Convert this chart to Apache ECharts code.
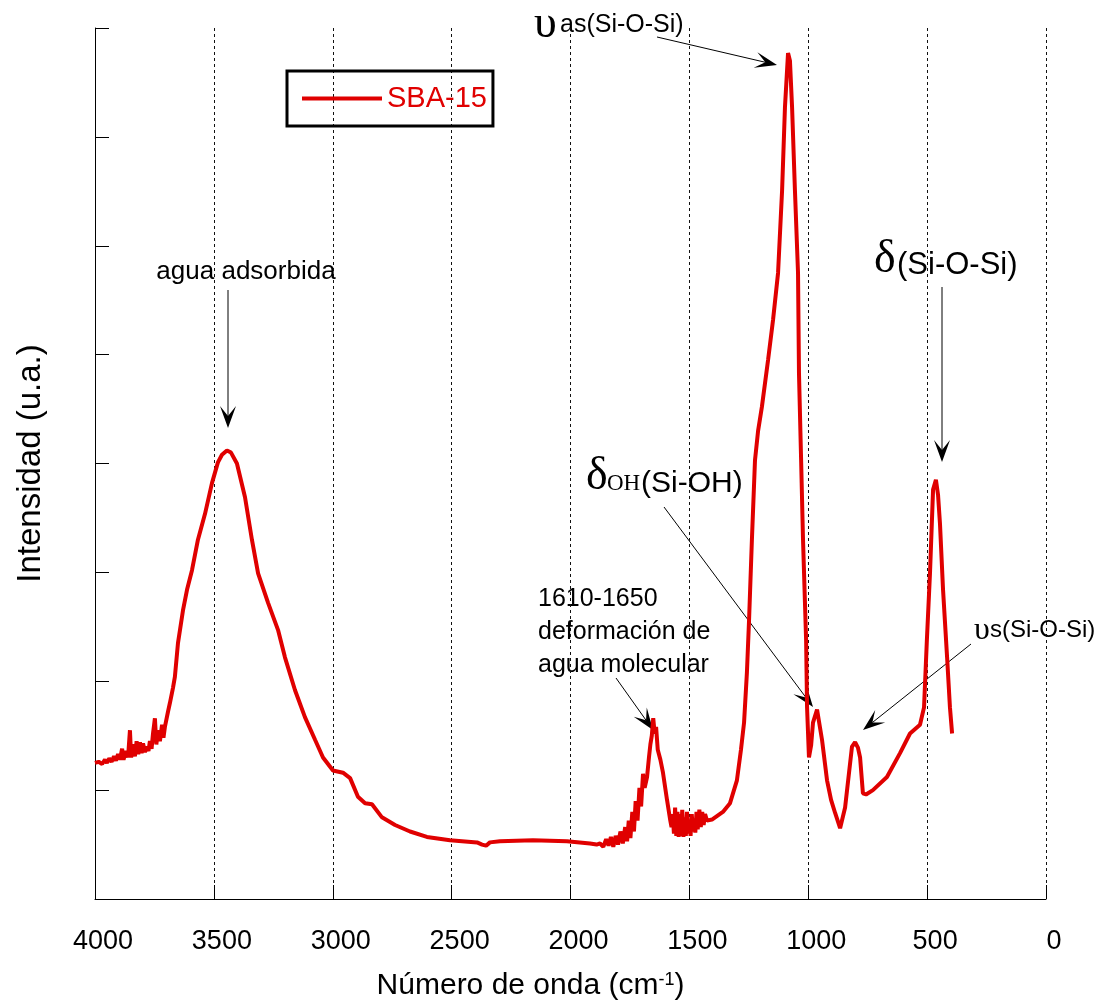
<!DOCTYPE html>
<html>
<head>
<meta charset="utf-8">
<script src="https://cdn.jsdelivr.net/npm/echarts@6/dist/echarts.min.js"></script>
<style>
  html, body { margin: 0; padding: 0; background: #fff; }
  #chart { width: 1109px; height: 1006px; }
</style>
</head>
<body>
<div id="chart"></div>
<script>
// número de onda (cm-1)
const wavenumber = [
  4000, 3985, 3970, 3958, 3950, 3940, 3930, 3920, 3912, 3903,
  3895, 3886, 3880, 3870, 3861, 3853, 3848, 3840, 3832, 3825,
  3818, 3811, 3804, 3798, 3790, 3782, 3775, 3769, 3762, 3756,
  3748, 3742, 3735, 3727, 3718, 3712, 3706,
  3693, 3685, 3672, 3664, 3651, 3630, 3613, 3592, 3567, 3537,
  3508, 3483, 3466, 3445, 3428, 3403, 3369, 3340, 3314, 3272,
  3230, 3201, 3159, 3117, 3074, 3041, 2999, 2957, 2927, 2894,
  2864, 2835, 2793, 2738, 2675, 2604, 2507, 2393, 2372, 2355,
  2339, 2297, 2158, 2015, 1918, 1890,
  1876, 1862, 1850, 1840, 1830, 1820, 1810, 1800, 1790, 1780,
  1770, 1762, 1755, 1748, 1740, 1733, 1726, 1718, 1710, 1703,
  1695, 1688, 1678, 1670, 1664, 1658, 1652, 1646, 1640, 1633,
  1622, 1611, 1594, 1581,
  1575, 1570, 1565, 1560, 1555, 1550, 1545, 1540, 1535, 1530,
  1525, 1520, 1515, 1510, 1505, 1500, 1495, 1490, 1485, 1480,
  1475, 1470, 1465, 1458, 1452, 1446, 1440, 1434, 1426, 1405,
  1359, 1329, 1300, 1283, 1270, 1258, 1249, 1237, 1224, 1211,
  1195, 1169, 1148, 1127, 1110, 1098, 1085, 1077, 1068, 1056,
  1043, 1039, 1030, 1022, 1009, 1005, 997, 988, 980, 963,
  942, 921, 904, 887, 866, 845, 816, 803, 791, 782,
  770, 757, 728, 669, 614, 572, 530, 513, 501, 488,
  475, 463, 454, 446, 433, 416, 404, 395
];
// intensidad (u.a.)
const intensity = [
  1.25, 1.26, 1.24, 1.28, 1.25, 1.29, 1.26, 1.31, 1.27, 1.33,
  1.28, 1.38, 1.28, 1.36, 1.30, 1.55, 1.30, 1.42, 1.31, 1.45,
  1.33, 1.44, 1.34, 1.43, 1.35, 1.40, 1.36, 1.45, 1.38, 1.52,
  1.66, 1.42, 1.55, 1.45, 1.60, 1.48, 1.58,
  1.72, 1.80, 1.94, 2.04, 2.35, 2.65, 2.84, 3.02, 3.30, 3.54,
  3.82, 4.01, 4.08, 4.12, 4.10, 4.00, 3.69, 3.30, 2.99, 2.72,
  2.47, 2.22, 1.92, 1.67, 1.46, 1.30, 1.18, 1.16, 1.11, 0.94,
  0.88, 0.87, 0.75, 0.68, 0.62, 0.57, 0.54, 0.52, 0.50, 0.49,
  0.52, 0.53, 0.54, 0.53, 0.51, 0.50,
  0.51, 0.48, 0.55, 0.49, 0.57, 0.48, 0.58, 0.50, 0.62, 0.51,
  0.66, 0.53, 0.72, 0.56, 0.80, 0.62, 0.90, 0.72, 1.02, 0.85,
  1.15, 1.02, 1.12, 1.30, 1.42, 1.50, 1.66, 1.52, 1.58, 1.37,
  1.28, 1.16, 0.91, 0.73,
  0.66, 0.78, 0.60, 0.84, 0.58, 0.80, 0.57, 0.78, 0.58, 0.82,
  0.57, 0.75, 0.58, 0.80, 0.60, 0.72, 0.58, 0.78, 0.62, 0.74,
  0.61, 0.80, 0.64, 0.82, 0.66, 0.80, 0.68, 0.78, 0.72, 0.73,
  0.80, 0.88, 1.09, 1.37, 1.62, 2.08, 2.56, 3.30, 4.03, 4.30,
  4.52, 4.95, 5.32, 5.75, 6.51, 7.27, 7.77, 7.70, 7.27, 6.51,
  5.75, 4.83, 4.03, 3.30, 2.38, 1.76, 1.30, 1.41, 1.62, 1.74,
  1.46, 1.09, 0.91, 0.79, 0.65, 0.84, 1.40, 1.44, 1.39, 1.30,
  0.97, 0.96, 1.00, 1.12, 1.34, 1.52, 1.60, 1.76, 2.38, 2.99,
  3.76, 3.85, 3.71, 3.45, 2.84, 2.22, 1.76, 1.52
];
const seriesName = 'SBA-15';

const RED = '#e00000';
const SANS = '"Liberation Sans", Arial, sans-serif';
const SERIF = '"Liberation Serif", "DejaVu Serif", serif';

// flecha con punta cóncava (estilo MATLAB)
function arrow(x1, y1, x2, y2) {
  const dx = x2 - x1, dy = y2 - y1;
  const len = Math.hypot(dx, dy);
  const ux = dx / len, uy = dy / len;
  const px = -uy, py = ux;
  const hl = 22, hw = 8, notch = 12;
  const bx = x2 - ux * hl, by = y2 - uy * hl;
  const nx = x2 - ux * notch, ny = y2 - uy * notch;
  return [
    { type: 'line', shape: { x1: x1, y1: y1, x2: nx, y2: ny }, style: { stroke: '#000', lineWidth: 1 } },
    {
      type: 'polygon',
      shape: { points: [[x2, y2], [bx + px * hw, by + py * hw], [nx, ny], [bx - px * hw, by - py * hw]] },
      style: { fill: '#000' }
    }
  ];
}

function label(text, x, y, font, extra) {
  return {
    type: 'text', x: x, y: y,
    style: Object.assign({ text: text, font: font, fill: '#000', align: 'left', verticalAlign: 'middle' }, extra || {})
  };
}

const annotations = [].concat(
  // υas(Si-O-Si)
  label('υ', 534, 25, '46px ' + SERIF),
  label('as(Si-O-Si)', 560, 25, '25px ' + SANS),
  arrow(657, 37, 777, 65),
  // agua adsorbida
  label('agua adsorbida', 246, 272, '26px ' + SANS, { align: 'center' }),
  arrow(228, 290, 228, 428),
  // δ(Si-O-Si)
  label('δ', 874, 260, '46px ' + SERIF),
  label('(Si-O-Si)', 897, 265, '31px ' + SANS),
  arrow(942, 287, 942, 462),
  // δOH(Si-OH)
  label('δ', 586, 477, '46px ' + SERIF),
  label('OH', 607, 484, '23px ' + SERIF),
  label('(Si-OH)', 641, 484, '30px ' + SANS),
  arrow(664, 507, 813, 707),
  // 1610-1650
  label('1610-1650\ndeformación de\nagua molecular', 538, 583, '25px ' + SANS, { verticalAlign: 'top', lineHeight: 33 }),
  arrow(616, 678, 653, 730),
  // υs(Si-O-Si)
  label('υ', 974, 631, '32px ' + SERIF),
  label('s(Si-O-Si)', 990, 630, '24px ' + SANS),
  arrow(971, 644, 863, 730)
);

const chart = echarts.init(document.getElementById('chart'), null, { renderer: 'canvas' });
chart.setOption({
  animation: false,
  backgroundColor: '#fff',
  grid: { left: 95, right: 63, top: 28, bottom: 107, containLabel: false, outerBoundsMode: 'none' },
  legend: {
    left: 287, top: 71,
    orient: 'horizontal',
    borderColor: '#000', borderWidth: 3, borderRadius: 0,
    padding: [13, 6, 13, 15],
    itemWidth: 80, itemHeight: 14,
    textStyle: { color: RED, fontSize: 29, fontFamily: SANS },
    data: [{ name: seriesName, icon: 'path://M0,0 L80,0 L80,4 L0,4 Z', itemStyle: { color: RED } }]
  },
  xAxis: {
    type: 'value', min: 0, max: 4000, interval: 500, inverse: true,
    name: 'Número de onda (cm{sup|-1})',
    nameLocation: 'middle', nameGap: 72,
    nameTextStyle: {
      fontSize: 30, fontFamily: SANS, color: '#000', padding: [0, 80, 0, 0],
      rich: { sup: { fontSize: 18, fontFamily: SANS, color: '#000', verticalAlign: 'top' } }
    },
    axisLine: { show: true, onZero: false, lineStyle: { color: '#000', width: 1 } },
    axisTick: { show: true, inside: true, length: 14, lineStyle: { color: '#000' } },
    axisLabel: {
      color: '#000', fontSize: 27, fontFamily: SANS, margin: 29, padding: [0, 0, 0, 16],
      showMinLabel: true, showMaxLabel: true,
      formatter: v => String(v)
    },
    splitLine: { show: true, lineStyle: { color: '#111', type: [3, 3], width: 1 } }
  },
  yAxis: {
    type: 'value', min: 0, max: 8, interval: 1, position: 'left',
    name: 'Intensidad (u.a.)',
    nameLocation: 'middle', nameGap: 48,
    nameTextStyle: { fontSize: 33, fontFamily: SANS, color: '#000' },
    axisLine: { show: true, onZero: false, lineStyle: { color: '#000', width: 1 } },
    axisTick: { show: true, inside: true, length: 14, lineStyle: { color: '#000' } },
    axisLabel: { show: false },
    splitLine: { show: false }
  },
  series: [{
    name: seriesName,
    type: 'line',
    data: wavenumber.map((w, i) => [w, intensity[i]]),
    symbol: 'none',
    smooth: false,
    lineStyle: { color: RED, width: 4 },
    itemStyle: { color: RED }
  }],
  graphic: { elements: annotations }
});
</script>
</body>
</html>
